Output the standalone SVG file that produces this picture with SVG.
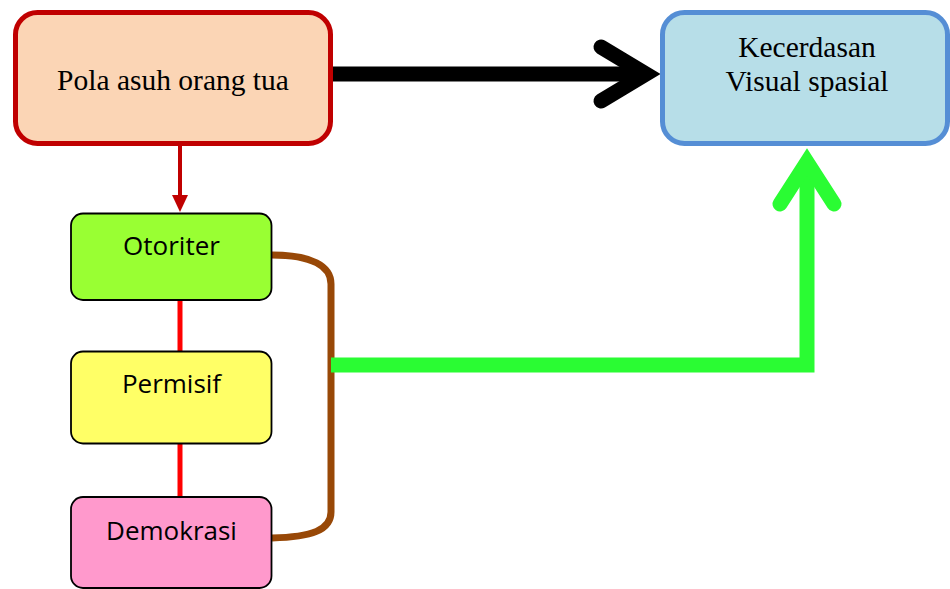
<svg xmlns="http://www.w3.org/2000/svg" width="950" height="589" viewBox="0 0 950 589">
<style>
.serif{font-family:"Liberation Serif","Times New Roman",serif;font-size:29.5px;fill:#000;text-anchor:middle}
.sans{font-family:"Open Sans","Noto Sans",sans-serif;font-size:26px;fill:#000;text-anchor:middle}
.small{stroke:#000;stroke-width:1.8}
</style>
<rect width="950" height="589" fill="#fff"/>
<g id="connectors">
<line x1="180" y1="146" x2="180" y2="196" stroke="#C00000" stroke-width="4"/>
<path d="M172,195 L188,195 L180,212 Z" fill="#C00000"/>
<line x1="180" y1="300" x2="180" y2="352" stroke="#FF0000" stroke-width="5"/>
<line x1="180" y1="443" x2="180" y2="497" stroke="#FF0000" stroke-width="5"/>
<path d="M272,255 C312,255 331,266 331,284 L331,512 C331,530 312,537 272,538" fill="none" stroke="#984807" stroke-width="7"/>
<line x1="333" y1="74" x2="640" y2="74" stroke="#000" stroke-width="15"/>
<polyline points="601,47 646,74 601,101" fill="none" stroke="#000" stroke-width="15" stroke-linecap="round" stroke-linejoin="miter"/>
<polyline points="331,365 807,365 807,165" fill="none" stroke="#2AFC33" stroke-width="15" stroke-linejoin="miter"/>
<polyline points="780,204 807,162 834,204" fill="none" stroke="#2AFC33" stroke-width="15" stroke-linecap="round" stroke-linejoin="miter"/>
</g>
<g id="pola">
<rect x="15.5" y="12.5" width="315" height="131" rx="22" fill="#FBD5B5" stroke="#C00000" stroke-width="5"/>
<text class="serif" x="173" y="90">Pola asuh orang tua</text>
</g>
<g id="kecerdasan">
<rect x="662.5" y="12.5" width="285" height="131" rx="22" fill="#B7DEE8" stroke="#558ED5" stroke-width="5"/>
<text class="serif" x="807" y="57">Kecerdasan</text>
<text class="serif" x="807" y="91">Visual spasial</text>
</g>
<g id="otoriter">
<rect class="small" x="71" y="213.5" width="200.5" height="86.5" rx="12" fill="#99FF33"/>
<text class="sans" x="171.5" y="255">Otoriter</text>
</g>
<g id="permisif">
<rect class="small" x="71" y="351.5" width="200.5" height="92" rx="12" fill="#FFFF66"/>
<text class="sans" x="171.5" y="393">Permisif</text>
</g>
<g id="demokrasi">
<rect class="small" x="71" y="497" width="200.5" height="91" rx="12" fill="#FF99CC"/>
<text class="sans" x="171.5" y="540">Demokrasi</text>
</g>
</svg>
